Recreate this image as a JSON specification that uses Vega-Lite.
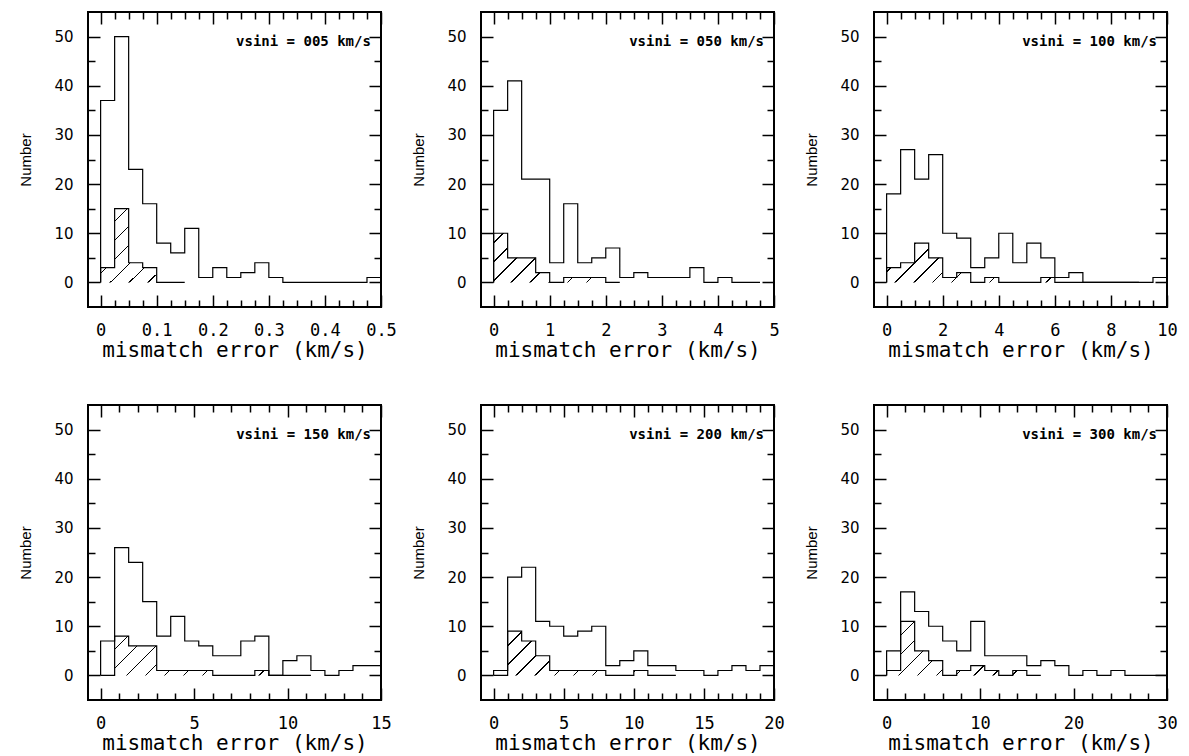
{
"$schema": "https://vega.github.io/schema/vega-lite/v6.json",
"background": "white",
"padding": {"left": 17, "top": 10, "right": 5, "bottom": 2},
"columns": 3,
"spacing": {"row": 98, "column": 100},
"bounds": "flush",
"config": {
  "view": {"stroke": "black", "strokeWidth": 2},
  "axis": {"domain": false, "grid": false, "tickColor": "black", "tickWidth": 1.5, "labelColor": "black", "titleColor": "black"}
},
"datasets": {
"h": [
{"p":1,"s":"all","e":0,"n":0},{"p":1,"s":"all","e":0.025,"n":37},{"p":1,"s":"all","e":0.05,"n":50},{"p":1,"s":"all","e":0.075,"n":23},{"p":1,"s":"all","e":0.1,"n":16},{"p":1,"s":"all","e":0.125,"n":8},{"p":1,"s":"all","e":0.15,"n":6},{"p":1,"s":"all","e":0.175,"n":11},{"p":1,"s":"all","e":0.2,"n":1},{"p":1,"s":"all","e":0.225,"n":3},{"p":1,"s":"all","e":0.25,"n":1},{"p":1,"s":"all","e":0.275,"n":2},{"p":1,"s":"all","e":0.3,"n":4},{"p":1,"s":"all","e":0.325,"n":1},{"p":1,"s":"all","e":0.35,"n":0},{"p":1,"s":"all","e":0.375,"n":0},{"p":1,"s":"all","e":0.4,"n":0},{"p":1,"s":"all","e":0.425,"n":0},{"p":1,"s":"all","e":0.45,"n":0},{"p":1,"s":"all","e":0.475,"n":0},{"p":1,"s":"all","e":0.5,"n":1},
{"p":1,"s":"sub","e":0,"n":0},{"p":1,"s":"sub","e":0.025,"n":3},{"p":1,"s":"sub","e":0.05,"n":15},{"p":1,"s":"sub","e":0.075,"n":4},{"p":1,"s":"sub","e":0.1,"n":3},{"p":1,"s":"sub","e":0.125,"n":0},{"p":1,"s":"sub","e":0.15,"n":0},
{"p":2,"s":"all","e":0,"n":0},{"p":2,"s":"all","e":0.25,"n":35},{"p":2,"s":"all","e":0.5,"n":41},{"p":2,"s":"all","e":0.75,"n":21},{"p":2,"s":"all","e":1,"n":21},{"p":2,"s":"all","e":1.25,"n":4},{"p":2,"s":"all","e":1.5,"n":16},{"p":2,"s":"all","e":1.75,"n":4},{"p":2,"s":"all","e":2,"n":5},{"p":2,"s":"all","e":2.25,"n":7},{"p":2,"s":"all","e":2.5,"n":1},{"p":2,"s":"all","e":2.75,"n":2},{"p":2,"s":"all","e":3,"n":1},{"p":2,"s":"all","e":3.25,"n":1},{"p":2,"s":"all","e":3.5,"n":1},{"p":2,"s":"all","e":3.75,"n":3},{"p":2,"s":"all","e":4,"n":0},{"p":2,"s":"all","e":4.25,"n":1},{"p":2,"s":"all","e":4.5,"n":0},{"p":2,"s":"all","e":4.75,"n":0},
{"p":2,"s":"sub","e":0,"n":0},{"p":2,"s":"sub","e":0.25,"n":10},{"p":2,"s":"sub","e":0.5,"n":5},{"p":2,"s":"sub","e":0.75,"n":5},{"p":2,"s":"sub","e":1,"n":2},{"p":2,"s":"sub","e":1.25,"n":0},{"p":2,"s":"sub","e":1.5,"n":1},{"p":2,"s":"sub","e":1.75,"n":1},{"p":2,"s":"sub","e":2,"n":1},{"p":2,"s":"sub","e":2.25,"n":0},
{"p":3,"s":"all","e":0,"n":0},{"p":3,"s":"all","e":0.5,"n":18},{"p":3,"s":"all","e":1,"n":27},{"p":3,"s":"all","e":1.5,"n":21},{"p":3,"s":"all","e":2,"n":26},{"p":3,"s":"all","e":2.5,"n":10},{"p":3,"s":"all","e":3,"n":9},{"p":3,"s":"all","e":3.5,"n":3},{"p":3,"s":"all","e":4,"n":5},{"p":3,"s":"all","e":4.5,"n":10},{"p":3,"s":"all","e":5,"n":4},{"p":3,"s":"all","e":5.5,"n":8},{"p":3,"s":"all","e":6,"n":5},{"p":3,"s":"all","e":6.5,"n":1},{"p":3,"s":"all","e":7,"n":2},{"p":3,"s":"all","e":7.5,"n":0},{"p":3,"s":"all","e":8,"n":0},{"p":3,"s":"all","e":8.5,"n":0},{"p":3,"s":"all","e":9,"n":0},{"p":3,"s":"all","e":9.5,"n":0},{"p":3,"s":"all","e":10,"n":1},
{"p":3,"s":"sub","e":0,"n":0},{"p":3,"s":"sub","e":0.5,"n":3},{"p":3,"s":"sub","e":1,"n":4},{"p":3,"s":"sub","e":1.5,"n":8},{"p":3,"s":"sub","e":2,"n":5},{"p":3,"s":"sub","e":2.5,"n":1},{"p":3,"s":"sub","e":3,"n":2},{"p":3,"s":"sub","e":3.5,"n":0},{"p":3,"s":"sub","e":4,"n":1},{"p":3,"s":"sub","e":4.5,"n":0},{"p":3,"s":"sub","e":5,"n":0},{"p":3,"s":"sub","e":5.5,"n":0},{"p":3,"s":"sub","e":6,"n":1},{"p":3,"s":"sub","e":6.5,"n":0},{"p":3,"s":"sub","e":7,"n":0},{"p":3,"s":"sub","e":7.5,"n":0},{"p":3,"s":"sub","e":8,"n":0},{"p":3,"s":"sub","e":8.5,"n":0},{"p":3,"s":"sub","e":9,"n":0},
{"p":4,"s":"all","e":0,"n":0},{"p":4,"s":"all","e":0.75,"n":7},{"p":4,"s":"all","e":1.5,"n":26},{"p":4,"s":"all","e":2.25,"n":23},{"p":4,"s":"all","e":3,"n":15},{"p":4,"s":"all","e":3.75,"n":8},{"p":4,"s":"all","e":4.5,"n":12},{"p":4,"s":"all","e":5.25,"n":7},{"p":4,"s":"all","e":6,"n":6},{"p":4,"s":"all","e":6.75,"n":4},{"p":4,"s":"all","e":7.5,"n":4},{"p":4,"s":"all","e":8.25,"n":7},{"p":4,"s":"all","e":9,"n":8},{"p":4,"s":"all","e":9.75,"n":0},{"p":4,"s":"all","e":10.5,"n":3},{"p":4,"s":"all","e":11.25,"n":4},{"p":4,"s":"all","e":12,"n":1},{"p":4,"s":"all","e":12.75,"n":0},{"p":4,"s":"all","e":13.5,"n":1},{"p":4,"s":"all","e":14.25,"n":2},{"p":4,"s":"all","e":15,"n":2},
{"p":4,"s":"sub","e":0,"n":0},{"p":4,"s":"sub","e":0.75,"n":0},{"p":4,"s":"sub","e":1.5,"n":8},{"p":4,"s":"sub","e":2.25,"n":6},{"p":4,"s":"sub","e":3,"n":6},{"p":4,"s":"sub","e":3.75,"n":1},{"p":4,"s":"sub","e":4.5,"n":1},{"p":4,"s":"sub","e":5.25,"n":1},{"p":4,"s":"sub","e":6,"n":1},{"p":4,"s":"sub","e":6.75,"n":0},{"p":4,"s":"sub","e":7.5,"n":0},{"p":4,"s":"sub","e":8.25,"n":0},{"p":4,"s":"sub","e":9,"n":1},{"p":4,"s":"sub","e":9.75,"n":0},{"p":4,"s":"sub","e":10.5,"n":0},{"p":4,"s":"sub","e":11.25,"n":0},
{"p":5,"s":"all","e":0,"n":0},{"p":5,"s":"all","e":1,"n":1},{"p":5,"s":"all","e":2,"n":20},{"p":5,"s":"all","e":3,"n":22},{"p":5,"s":"all","e":4,"n":11},{"p":5,"s":"all","e":5,"n":10},{"p":5,"s":"all","e":6,"n":8},{"p":5,"s":"all","e":7,"n":9},{"p":5,"s":"all","e":8,"n":10},{"p":5,"s":"all","e":9,"n":2},{"p":5,"s":"all","e":10,"n":3},{"p":5,"s":"all","e":11,"n":5},{"p":5,"s":"all","e":12,"n":2},{"p":5,"s":"all","e":13,"n":2},{"p":5,"s":"all","e":14,"n":1},{"p":5,"s":"all","e":15,"n":1},{"p":5,"s":"all","e":16,"n":0},{"p":5,"s":"all","e":17,"n":1},{"p":5,"s":"all","e":18,"n":2},{"p":5,"s":"all","e":19,"n":1},{"p":5,"s":"all","e":20,"n":2},
{"p":5,"s":"sub","e":0,"n":0},{"p":5,"s":"sub","e":1,"n":0},{"p":5,"s":"sub","e":2,"n":9},{"p":5,"s":"sub","e":3,"n":7},{"p":5,"s":"sub","e":4,"n":4},{"p":5,"s":"sub","e":5,"n":1},{"p":5,"s":"sub","e":6,"n":1},{"p":5,"s":"sub","e":7,"n":1},{"p":5,"s":"sub","e":8,"n":1},{"p":5,"s":"sub","e":9,"n":0},{"p":5,"s":"sub","e":10,"n":0},{"p":5,"s":"sub","e":11,"n":1},{"p":5,"s":"sub","e":12,"n":0},{"p":5,"s":"sub","e":13,"n":0},
{"p":6,"s":"all","e":0,"n":0},{"p":6,"s":"all","e":1.5,"n":5},{"p":6,"s":"all","e":3,"n":17},{"p":6,"s":"all","e":4.5,"n":13},{"p":6,"s":"all","e":6,"n":10},{"p":6,"s":"all","e":7.5,"n":7},{"p":6,"s":"all","e":9,"n":5},{"p":6,"s":"all","e":10.5,"n":11},{"p":6,"s":"all","e":12,"n":4},{"p":6,"s":"all","e":13.5,"n":4},{"p":6,"s":"all","e":15,"n":4},{"p":6,"s":"all","e":16.5,"n":2},{"p":6,"s":"all","e":18,"n":3},{"p":6,"s":"all","e":19.5,"n":2},{"p":6,"s":"all","e":21,"n":0},{"p":6,"s":"all","e":22.5,"n":1},{"p":6,"s":"all","e":24,"n":0},{"p":6,"s":"all","e":25.5,"n":1},{"p":6,"s":"all","e":27,"n":0},{"p":6,"s":"all","e":28.5,"n":0},{"p":6,"s":"all","e":30,"n":0},
{"p":6,"s":"sub","e":0,"n":0},{"p":6,"s":"sub","e":1.5,"n":1},{"p":6,"s":"sub","e":3,"n":11},{"p":6,"s":"sub","e":4.5,"n":5},{"p":6,"s":"sub","e":6,"n":3},{"p":6,"s":"sub","e":7.5,"n":0},{"p":6,"s":"sub","e":9,"n":1},{"p":6,"s":"sub","e":10.5,"n":2},{"p":6,"s":"sub","e":12,"n":1},{"p":6,"s":"sub","e":13.5,"n":0},{"p":6,"s":"sub","e":15,"n":1},{"p":6,"s":"sub","e":16.5,"n":0}
]
},
"concat": [
{
 "width": 293, "height": 295,
 "layer": [
  {"data": {"name": "h"}, "transform": [{"filter": "datum.p == 1 && datum.s == 'sub'"}],
   "mark": {"type": "area", "interpolate": "step-before", "color": {"gradient": "linear", "x1": 0, "y1": 0, "x2": 1.059, "y2": 0.933, "stops": [
     {"offset": 0, "color": "rgba(0,0,0,0)"},
     {"offset": 0.045, "color": "rgba(0,0,0,0)"},{"offset": 0.045, "color": "#000"},{"offset": 0.055, "color": "#000"},{"offset": 0.055, "color": "rgba(0,0,0,0)"},
     {"offset": 0.165, "color": "rgba(0,0,0,0)"},{"offset": 0.165, "color": "#000"},{"offset": 0.175, "color": "#000"},{"offset": 0.175, "color": "rgba(0,0,0,0)"},
     {"offset": 0.285, "color": "rgba(0,0,0,0)"},{"offset": 0.285, "color": "#000"},{"offset": 0.295, "color": "#000"},{"offset": 0.295, "color": "rgba(0,0,0,0)"},
     {"offset": 0.405, "color": "rgba(0,0,0,0)"},{"offset": 0.405, "color": "#000"},{"offset": 0.415, "color": "#000"},{"offset": 0.415, "color": "rgba(0,0,0,0)"},
     {"offset": 0.525, "color": "rgba(0,0,0,0)"},{"offset": 0.525, "color": "#000"},{"offset": 0.535, "color": "#000"},{"offset": 0.535, "color": "rgba(0,0,0,0)"},
     {"offset": 0.645, "color": "rgba(0,0,0,0)"},{"offset": 0.645, "color": "#000"},{"offset": 0.655, "color": "#000"},{"offset": 0.655, "color": "rgba(0,0,0,0)"},
     {"offset": 0.765, "color": "rgba(0,0,0,0)"},{"offset": 0.765, "color": "#000"},{"offset": 0.775, "color": "#000"},{"offset": 0.775, "color": "rgba(0,0,0,0)"},
     {"offset": 0.885, "color": "rgba(0,0,0,0)"},{"offset": 0.885, "color": "#000"},{"offset": 0.895, "color": "#000"},{"offset": 0.895, "color": "rgba(0,0,0,0)"},
     {"offset": 1, "color": "rgba(0,0,0,0)"}]}},
   "encoding": {
     "x": {"field": "e", "type": "quantitative", "scale": {"domain": [-0.0225, 0.5], "nice": false, "zero": false},
       "axis": {"orient": "bottom", "values": [0,0.025,0.05,0.075,0.1,0.125,0.15,0.175,0.2,0.225,0.25,0.275,0.3,0.325,0.35,0.375,0.4,0.425,0.45,0.475,0.5],
         "tickSize": {"condition": {"test": "abs(datum.value*10-round(datum.value*10))<0.001", "value": -12}, "value": -7},
         "labelExpr": "abs(datum.value*10-round(datum.value*10))<0.001 ? format(datum.value,'~g') : ''",
         "labelFont": "DejaVu Sans Mono", "labelFontSize": 17, "labelPadding": 27, "labelOverlap": false, "labelFlush": false, "labelBaseline": "top",
         "title": "mismatch error (km/s)", "titleFont": "DejaVu Sans Mono", "titleFontSize": 21, "titleFontWeight": "normal", "titlePadding": -4}},
     "y": {"field": "n", "type": "quantitative", "stack": null, "scale": {"domain": [-5, 55], "nice": false, "zero": false},
       "axis": {"orient": "left", "values": [0,5,10,15,20,25,30,35,40,45,50],
         "tickSize": {"condition": {"test": "datum.value % 10 == 0", "value": -12}, "value": -7},
         "labelExpr": "datum.value % 10 == 0 ? format(datum.value,'~g') : ''",
         "labelFont": "DejaVu Sans", "labelFontSize": 15, "labelPadding": 27, "labelOverlap": false, "labelFlush": false,
         "title": "Number", "titleFont": "Liberation Sans", "titleFontSize": 15, "titleFontWeight": "normal", "titlePadding": 20}},
     "y2": {"datum": 0}
   }},
  {"data": {"name": "h"}, "transform": [{"filter": "datum.p == 1 && datum.s == 'sub'"}],
   "mark": {"type": "line", "interpolate": "step-before", "color": "black", "strokeWidth": 1.2},
   "encoding": {
     "x": {"field": "e", "type": "quantitative", "scale": {"domain": [-0.0225, 0.5], "nice": false, "zero": false}, "axis": null},
     "y": {"field": "n", "type": "quantitative", "scale": {"domain": [-5, 55], "nice": false, "zero": false}, "axis": null}}},
  {"data": {"name": "h"}, "transform": [{"filter": "datum.p == 1 && datum.s == 'all'"}],
   "mark": {"type": "line", "interpolate": "step-before", "color": "black", "strokeWidth": 1.2},
   "encoding": {
     "x": {"field": "e", "type": "quantitative", "scale": {"domain": [-0.0225, 0.5], "nice": false, "zero": false},
       "axis": {"orient": "top", "values": [0,0.025,0.05,0.075,0.1,0.125,0.15,0.175,0.2,0.225,0.25,0.275,0.3,0.325,0.35,0.375,0.4,0.425,0.45,0.475,0.5],
         "tickSize": {"condition": {"test": "abs(datum.value*10-round(datum.value*10))<0.001", "value": -12}, "value": -7}, "labels": false, "title": null}},
     "y": {"field": "n", "type": "quantitative", "scale": {"domain": [-5, 55], "nice": false, "zero": false},
       "axis": {"orient": "right", "values": [0,5,10,15,20,25,30,35,40,45,50],
         "tickSize": {"condition": {"test": "datum.value % 10 == 0", "value": -12}, "value": -7}, "labels": false, "title": null}}}},
  {"data": {"values": [{"t": "vsini = 005 km/s"}]},
   "mark": {"type": "text", "align": "right", "baseline": "middle", "font": "DejaVu Sans Mono", "fontSize": 14, "fontWeight": "bold", "color": "black"},
   "encoding": {"text": {"field": "t"},
     "x": {"datum": 0.482, "type": "quantitative", "scale": {"domain": [-0.0225, 0.5], "nice": false, "zero": false}, "axis": null},
     "y": {"datum": 48.9, "type": "quantitative", "scale": {"domain": [-5, 55], "nice": false, "zero": false}, "axis": null}}}
 ],
 "resolve": {"axis": {"x": "independent", "y": "independent"}}
},
{
 "width": 293, "height": 295,
 "layer": [
  {"data": {"name": "h"}, "transform": [{"filter": "datum.p == 2 && datum.s == 'sub'"}],
   "mark": {"type": "area", "interpolate": "step-before", "color": {"gradient": "linear", "x1": 0, "y1": 0, "x2": 1.207, "y2": 0.47, "stops": [
     {"offset": 0, "color": "rgba(0,0,0,0)"},
     {"offset": 0.05, "color": "rgba(0,0,0,0)"},{"offset": 0.05, "color": "#000"},{"offset": 0.059, "color": "#000"},{"offset": 0.059, "color": "rgba(0,0,0,0)"},
     {"offset": 0.158, "color": "rgba(0,0,0,0)"},{"offset": 0.158, "color": "#000"},{"offset": 0.167, "color": "#000"},{"offset": 0.167, "color": "rgba(0,0,0,0)"},
     {"offset": 0.266, "color": "rgba(0,0,0,0)"},{"offset": 0.266, "color": "#000"},{"offset": 0.275, "color": "#000"},{"offset": 0.275, "color": "rgba(0,0,0,0)"},
     {"offset": 0.374, "color": "rgba(0,0,0,0)"},{"offset": 0.374, "color": "#000"},{"offset": 0.383, "color": "#000"},{"offset": 0.383, "color": "rgba(0,0,0,0)"},
     {"offset": 0.482, "color": "rgba(0,0,0,0)"},{"offset": 0.482, "color": "#000"},{"offset": 0.491, "color": "#000"},{"offset": 0.491, "color": "rgba(0,0,0,0)"},
     {"offset": 0.59, "color": "rgba(0,0,0,0)"},{"offset": 0.59, "color": "#000"},{"offset": 0.599, "color": "#000"},{"offset": 0.599, "color": "rgba(0,0,0,0)"},
     {"offset": 0.698, "color": "rgba(0,0,0,0)"},{"offset": 0.698, "color": "#000"},{"offset": 0.707, "color": "#000"},{"offset": 0.707, "color": "rgba(0,0,0,0)"},
     {"offset": 0.806, "color": "rgba(0,0,0,0)"},{"offset": 0.806, "color": "#000"},{"offset": 0.815, "color": "#000"},{"offset": 0.815, "color": "rgba(0,0,0,0)"},
     {"offset": 0.914, "color": "rgba(0,0,0,0)"},{"offset": 0.914, "color": "#000"},{"offset": 0.923, "color": "#000"},{"offset": 0.923, "color": "rgba(0,0,0,0)"},
     {"offset": 1, "color": "rgba(0,0,0,0)"}]}},
   "encoding": {
     "x": {"field": "e", "type": "quantitative", "scale": {"domain": [-0.225, 5], "nice": false, "zero": false},
       "axis": {"orient": "bottom", "values": [0,0.25,0.5,0.75,1,1.25,1.5,1.75,2,2.25,2.5,2.75,3,3.25,3.5,3.75,4,4.25,4.5,4.75,5],
         "tickSize": {"condition": {"test": "abs(datum.value-round(datum.value))<0.001", "value": -12}, "value": -7},
         "labelExpr": "abs(datum.value-round(datum.value))<0.001 ? format(datum.value,'~g') : ''",
         "labelFont": "DejaVu Sans Mono", "labelFontSize": 17, "labelPadding": 27, "labelOverlap": false, "labelFlush": false, "labelBaseline": "top",
         "title": "mismatch error (km/s)", "titleFont": "DejaVu Sans Mono", "titleFontSize": 21, "titleFontWeight": "normal", "titlePadding": -4}},
     "y": {"field": "n", "type": "quantitative", "stack": null, "scale": {"domain": [-5, 55], "nice": false, "zero": false},
       "axis": {"orient": "left", "values": [0,5,10,15,20,25,30,35,40,45,50],
         "tickSize": {"condition": {"test": "datum.value % 10 == 0", "value": -12}, "value": -7},
         "labelExpr": "datum.value % 10 == 0 ? format(datum.value,'~g') : ''",
         "labelFont": "DejaVu Sans", "labelFontSize": 15, "labelPadding": 27, "labelOverlap": false, "labelFlush": false,
         "title": "Number", "titleFont": "Liberation Sans", "titleFontSize": 15, "titleFontWeight": "normal", "titlePadding": 20}},
     "y2": {"datum": 0}
   }},
  {"data": {"name": "h"}, "transform": [{"filter": "datum.p == 2 && datum.s == 'sub'"}],
   "mark": {"type": "line", "interpolate": "step-before", "color": "black", "strokeWidth": 1.2},
   "encoding": {
     "x": {"field": "e", "type": "quantitative", "scale": {"domain": [-0.225, 5], "nice": false, "zero": false}, "axis": null},
     "y": {"field": "n", "type": "quantitative", "scale": {"domain": [-5, 55], "nice": false, "zero": false}, "axis": null}}},
  {"data": {"name": "h"}, "transform": [{"filter": "datum.p == 2 && datum.s == 'all'"}],
   "mark": {"type": "line", "interpolate": "step-before", "color": "black", "strokeWidth": 1.2},
   "encoding": {
     "x": {"field": "e", "type": "quantitative", "scale": {"domain": [-0.225, 5], "nice": false, "zero": false},
       "axis": {"orient": "top", "values": [0,0.25,0.5,0.75,1,1.25,1.5,1.75,2,2.25,2.5,2.75,3,3.25,3.5,3.75,4,4.25,4.5,4.75,5],
         "tickSize": {"condition": {"test": "abs(datum.value-round(datum.value))<0.001", "value": -12}, "value": -7}, "labels": false, "title": null}},
     "y": {"field": "n", "type": "quantitative", "scale": {"domain": [-5, 55], "nice": false, "zero": false},
       "axis": {"orient": "right", "values": [0,5,10,15,20,25,30,35,40,45,50],
         "tickSize": {"condition": {"test": "datum.value % 10 == 0", "value": -12}, "value": -7}, "labels": false, "title": null}}}},
  {"data": {"values": [{"t": "vsini = 050 km/s"}]},
   "mark": {"type": "text", "align": "right", "baseline": "middle", "font": "DejaVu Sans Mono", "fontSize": 14, "fontWeight": "bold", "color": "black"},
   "encoding": {"text": {"field": "t"},
     "x": {"datum": 4.822, "type": "quantitative", "scale": {"domain": [-0.225, 5], "nice": false, "zero": false}, "axis": null},
     "y": {"datum": 48.9, "type": "quantitative", "scale": {"domain": [-5, 55], "nice": false, "zero": false}, "axis": null}}}
 ],
 "resolve": {"axis": {"x": "independent", "y": "independent"}}
},
{
 "width": 293, "height": 295,
 "layer": [
  {"data": {"name": "h"}, "transform": [{"filter": "datum.p == 3 && datum.s == 'sub'"}],
   "mark": {"type": "area", "interpolate": "step-before", "color": {"gradient": "linear", "x1": 0, "y1": 0, "x2": 1.128, "y2": 0.176, "stops": [
     {"offset": 0, "color": "rgba(0,0,0,0)"},
     {"offset": 0.03, "color": "rgba(0,0,0,0)"},{"offset": 0.03, "color": "#000"},{"offset": 0.036, "color": "#000"},{"offset": 0.036, "color": "rgba(0,0,0,0)"},
     {"offset": 0.095, "color": "rgba(0,0,0,0)"},{"offset": 0.095, "color": "#000"},{"offset": 0.101, "color": "#000"},{"offset": 0.101, "color": "rgba(0,0,0,0)"},
     {"offset": 0.16, "color": "rgba(0,0,0,0)"},{"offset": 0.16, "color": "#000"},{"offset": 0.166, "color": "#000"},{"offset": 0.166, "color": "rgba(0,0,0,0)"},
     {"offset": 0.225, "color": "rgba(0,0,0,0)"},{"offset": 0.225, "color": "#000"},{"offset": 0.231, "color": "#000"},{"offset": 0.231, "color": "rgba(0,0,0,0)"},
     {"offset": 0.29, "color": "rgba(0,0,0,0)"},{"offset": 0.29, "color": "#000"},{"offset": 0.296, "color": "#000"},{"offset": 0.296, "color": "rgba(0,0,0,0)"},
     {"offset": 0.355, "color": "rgba(0,0,0,0)"},{"offset": 0.355, "color": "#000"},{"offset": 0.361, "color": "#000"},{"offset": 0.361, "color": "rgba(0,0,0,0)"},
     {"offset": 0.42, "color": "rgba(0,0,0,0)"},{"offset": 0.42, "color": "#000"},{"offset": 0.426, "color": "#000"},{"offset": 0.426, "color": "rgba(0,0,0,0)"},
     {"offset": 0.485, "color": "rgba(0,0,0,0)"},{"offset": 0.485, "color": "#000"},{"offset": 0.491, "color": "#000"},{"offset": 0.491, "color": "rgba(0,0,0,0)"},
     {"offset": 0.55, "color": "rgba(0,0,0,0)"},{"offset": 0.55, "color": "#000"},{"offset": 0.556, "color": "#000"},{"offset": 0.556, "color": "rgba(0,0,0,0)"},
     {"offset": 0.615, "color": "rgba(0,0,0,0)"},{"offset": 0.615, "color": "#000"},{"offset": 0.621, "color": "#000"},{"offset": 0.621, "color": "rgba(0,0,0,0)"},
     {"offset": 0.68, "color": "rgba(0,0,0,0)"},{"offset": 0.68, "color": "#000"},{"offset": 0.686, "color": "#000"},{"offset": 0.686, "color": "rgba(0,0,0,0)"},
     {"offset": 0.745, "color": "rgba(0,0,0,0)"},{"offset": 0.745, "color": "#000"},{"offset": 0.751, "color": "#000"},{"offset": 0.751, "color": "rgba(0,0,0,0)"},
     {"offset": 0.81, "color": "rgba(0,0,0,0)"},{"offset": 0.81, "color": "#000"},{"offset": 0.816, "color": "#000"},{"offset": 0.816, "color": "rgba(0,0,0,0)"},
     {"offset": 0.875, "color": "rgba(0,0,0,0)"},{"offset": 0.875, "color": "#000"},{"offset": 0.881, "color": "#000"},{"offset": 0.881, "color": "rgba(0,0,0,0)"},
     {"offset": 0.94, "color": "rgba(0,0,0,0)"},{"offset": 0.94, "color": "#000"},{"offset": 0.946, "color": "#000"},{"offset": 0.946, "color": "rgba(0,0,0,0)"},
     {"offset": 1, "color": "rgba(0,0,0,0)"}]}},
   "encoding": {
     "x": {"field": "e", "type": "quantitative", "scale": {"domain": [-0.45, 10], "nice": false, "zero": false},
       "axis": {"orient": "bottom", "values": [0,0.5,1,1.5,2,2.5,3,3.5,4,4.5,5,5.5,6,6.5,7,7.5,8,8.5,9,9.5,10],
         "tickSize": {"condition": {"test": "datum.value % 2 == 0", "value": -12}, "value": -7},
         "labelExpr": "datum.value % 2 == 0 ? format(datum.value,'~g') : ''",
         "labelFont": "DejaVu Sans Mono", "labelFontSize": 17, "labelPadding": 27, "labelOverlap": false, "labelFlush": false, "labelBaseline": "top",
         "title": "mismatch error (km/s)", "titleFont": "DejaVu Sans Mono", "titleFontSize": 21, "titleFontWeight": "normal", "titlePadding": -4}},
     "y": {"field": "n", "type": "quantitative", "stack": null, "scale": {"domain": [-5, 55], "nice": false, "zero": false},
       "axis": {"orient": "left", "values": [0,5,10,15,20,25,30,35,40,45,50],
         "tickSize": {"condition": {"test": "datum.value % 10 == 0", "value": -12}, "value": -7},
         "labelExpr": "datum.value % 10 == 0 ? format(datum.value,'~g') : ''",
         "labelFont": "DejaVu Sans", "labelFontSize": 15, "labelPadding": 27, "labelOverlap": false, "labelFlush": false,
         "title": "Number", "titleFont": "Liberation Sans", "titleFontSize": 15, "titleFontWeight": "normal", "titlePadding": 20}},
     "y2": {"datum": 0}
   }},
  {"data": {"name": "h"}, "transform": [{"filter": "datum.p == 3 && datum.s == 'sub'"}],
   "mark": {"type": "line", "interpolate": "step-before", "color": "black", "strokeWidth": 1.2},
   "encoding": {
     "x": {"field": "e", "type": "quantitative", "scale": {"domain": [-0.45, 10], "nice": false, "zero": false}, "axis": null},
     "y": {"field": "n", "type": "quantitative", "scale": {"domain": [-5, 55], "nice": false, "zero": false}, "axis": null}}},
  {"data": {"name": "h"}, "transform": [{"filter": "datum.p == 3 && datum.s == 'all'"}],
   "mark": {"type": "line", "interpolate": "step-before", "color": "black", "strokeWidth": 1.2},
   "encoding": {
     "x": {"field": "e", "type": "quantitative", "scale": {"domain": [-0.45, 10], "nice": false, "zero": false},
       "axis": {"orient": "top", "values": [0,0.5,1,1.5,2,2.5,3,3.5,4,4.5,5,5.5,6,6.5,7,7.5,8,8.5,9,9.5,10],
         "tickSize": {"condition": {"test": "datum.value % 2 == 0", "value": -12}, "value": -7}, "labels": false, "title": null}},
     "y": {"field": "n", "type": "quantitative", "scale": {"domain": [-5, 55], "nice": false, "zero": false},
       "axis": {"orient": "right", "values": [0,5,10,15,20,25,30,35,40,45,50],
         "tickSize": {"condition": {"test": "datum.value % 10 == 0", "value": -12}, "value": -7}, "labels": false, "title": null}}}},
  {"data": {"values": [{"t": "vsini = 100 km/s"}]},
   "mark": {"type": "text", "align": "right", "baseline": "middle", "font": "DejaVu Sans Mono", "fontSize": 14, "fontWeight": "bold", "color": "black"},
   "encoding": {"text": {"field": "t"},
     "x": {"datum": 9.643, "type": "quantitative", "scale": {"domain": [-0.45, 10], "nice": false, "zero": false}, "axis": null},
     "y": {"datum": 48.9, "type": "quantitative", "scale": {"domain": [-5, 55], "nice": false, "zero": false}, "axis": null}}}
 ],
 "resolve": {"axis": {"x": "independent", "y": "independent"}}
},
{
 "width": 293, "height": 295,
 "layer": [
  {"data": {"name": "h"}, "transform": [{"filter": "datum.p == 4 && datum.s == 'sub'"}],
   "mark": {"type": "area", "interpolate": "step-before", "color": {"gradient": "linear", "x1": 0, "y1": 0, "x2": 1.147, "y2": 0.214, "stops": [
     {"offset": 0, "color": "rgba(0,0,0,0)"},
     {"offset": 0.03, "color": "rgba(0,0,0,0)"},{"offset": 0.03, "color": "#000"},{"offset": 0.0365, "color": "#000"},{"offset": 0.0365, "color": "rgba(0,0,0,0)"},
     {"offset": 0.106, "color": "rgba(0,0,0,0)"},{"offset": 0.106, "color": "#000"},{"offset": 0.1125, "color": "#000"},{"offset": 0.1125, "color": "rgba(0,0,0,0)"},
     {"offset": 0.182, "color": "rgba(0,0,0,0)"},{"offset": 0.182, "color": "#000"},{"offset": 0.1885, "color": "#000"},{"offset": 0.1885, "color": "rgba(0,0,0,0)"},
     {"offset": 0.258, "color": "rgba(0,0,0,0)"},{"offset": 0.258, "color": "#000"},{"offset": 0.2645, "color": "#000"},{"offset": 0.2645, "color": "rgba(0,0,0,0)"},
     {"offset": 0.334, "color": "rgba(0,0,0,0)"},{"offset": 0.334, "color": "#000"},{"offset": 0.3405, "color": "#000"},{"offset": 0.3405, "color": "rgba(0,0,0,0)"},
     {"offset": 0.41, "color": "rgba(0,0,0,0)"},{"offset": 0.41, "color": "#000"},{"offset": 0.4165, "color": "#000"},{"offset": 0.4165, "color": "rgba(0,0,0,0)"},
     {"offset": 0.486, "color": "rgba(0,0,0,0)"},{"offset": 0.486, "color": "#000"},{"offset": 0.4925, "color": "#000"},{"offset": 0.4925, "color": "rgba(0,0,0,0)"},
     {"offset": 0.562, "color": "rgba(0,0,0,0)"},{"offset": 0.562, "color": "#000"},{"offset": 0.5685, "color": "#000"},{"offset": 0.5685, "color": "rgba(0,0,0,0)"},
     {"offset": 0.638, "color": "rgba(0,0,0,0)"},{"offset": 0.638, "color": "#000"},{"offset": 0.6445, "color": "#000"},{"offset": 0.6445, "color": "rgba(0,0,0,0)"},
     {"offset": 0.714, "color": "rgba(0,0,0,0)"},{"offset": 0.714, "color": "#000"},{"offset": 0.7205, "color": "#000"},{"offset": 0.7205, "color": "rgba(0,0,0,0)"},
     {"offset": 0.79, "color": "rgba(0,0,0,0)"},{"offset": 0.79, "color": "#000"},{"offset": 0.7965, "color": "#000"},{"offset": 0.7965, "color": "rgba(0,0,0,0)"},
     {"offset": 0.866, "color": "rgba(0,0,0,0)"},{"offset": 0.866, "color": "#000"},{"offset": 0.8725, "color": "#000"},{"offset": 0.8725, "color": "rgba(0,0,0,0)"},
     {"offset": 0.942, "color": "rgba(0,0,0,0)"},{"offset": 0.942, "color": "#000"},{"offset": 0.9485, "color": "#000"},{"offset": 0.9485, "color": "rgba(0,0,0,0)"},
     {"offset": 1, "color": "rgba(0,0,0,0)"}]}},
   "encoding": {
     "x": {"field": "e", "type": "quantitative", "scale": {"domain": [-0.675, 15], "nice": false, "zero": false},
       "axis": {"orient": "bottom", "values": [0,1,2,3,4,5,6,7,8,9,10,11,12,13,14,15],
         "tickSize": {"condition": {"test": "datum.value % 5 == 0", "value": -12}, "value": -7},
         "labelExpr": "datum.value % 5 == 0 ? format(datum.value,'~g') : ''",
         "labelFont": "DejaVu Sans Mono", "labelFontSize": 17, "labelPadding": 27, "labelOverlap": false, "labelFlush": false, "labelBaseline": "top",
         "title": "mismatch error (km/s)", "titleFont": "DejaVu Sans Mono", "titleFontSize": 21, "titleFontWeight": "normal", "titlePadding": -4}},
     "y": {"field": "n", "type": "quantitative", "stack": null, "scale": {"domain": [-5, 55], "nice": false, "zero": false},
       "axis": {"orient": "left", "values": [0,5,10,15,20,25,30,35,40,45,50],
         "tickSize": {"condition": {"test": "datum.value % 10 == 0", "value": -12}, "value": -7},
         "labelExpr": "datum.value % 10 == 0 ? format(datum.value,'~g') : ''",
         "labelFont": "DejaVu Sans", "labelFontSize": 15, "labelPadding": 27, "labelOverlap": false, "labelFlush": false,
         "title": "Number", "titleFont": "Liberation Sans", "titleFontSize": 15, "titleFontWeight": "normal", "titlePadding": 20}},
     "y2": {"datum": 0}
   }},
  {"data": {"name": "h"}, "transform": [{"filter": "datum.p == 4 && datum.s == 'sub'"}],
   "mark": {"type": "line", "interpolate": "step-before", "color": "black", "strokeWidth": 1.2},
   "encoding": {
     "x": {"field": "e", "type": "quantitative", "scale": {"domain": [-0.675, 15], "nice": false, "zero": false}, "axis": null},
     "y": {"field": "n", "type": "quantitative", "scale": {"domain": [-5, 55], "nice": false, "zero": false}, "axis": null}}},
  {"data": {"name": "h"}, "transform": [{"filter": "datum.p == 4 && datum.s == 'all'"}],
   "mark": {"type": "line", "interpolate": "step-before", "color": "black", "strokeWidth": 1.2},
   "encoding": {
     "x": {"field": "e", "type": "quantitative", "scale": {"domain": [-0.675, 15], "nice": false, "zero": false},
       "axis": {"orient": "top", "values": [0,1,2,3,4,5,6,7,8,9,10,11,12,13,14,15],
         "tickSize": {"condition": {"test": "datum.value % 5 == 0", "value": -12}, "value": -7}, "labels": false, "title": null}},
     "y": {"field": "n", "type": "quantitative", "scale": {"domain": [-5, 55], "nice": false, "zero": false},
       "axis": {"orient": "right", "values": [0,5,10,15,20,25,30,35,40,45,50],
         "tickSize": {"condition": {"test": "datum.value % 10 == 0", "value": -12}, "value": -7}, "labels": false, "title": null}}}},
  {"data": {"values": [{"t": "vsini = 150 km/s"}]},
   "mark": {"type": "text", "align": "right", "baseline": "middle", "font": "DejaVu Sans Mono", "fontSize": 14, "fontWeight": "bold", "color": "black"},
   "encoding": {"text": {"field": "t"},
     "x": {"datum": 14.465, "type": "quantitative", "scale": {"domain": [-0.675, 15], "nice": false, "zero": false}, "axis": null},
     "y": {"datum": 48.9, "type": "quantitative", "scale": {"domain": [-5, 55], "nice": false, "zero": false}, "axis": null}}}
 ],
 "resolve": {"axis": {"x": "independent", "y": "independent"}}
},
{
 "width": 293, "height": 295,
 "layer": [
  {"data": {"name": "h"}, "transform": [{"filter": "datum.p == 5 && datum.s == 'sub'"}],
   "mark": {"type": "area", "interpolate": "step-before", "color": {"gradient": "linear", "x1": 0, "y1": 0, "x2": 1.174, "y2": 0.285, "stops": [
     {"offset": 0, "color": "rgba(0,0,0,0)"},
     {"offset": 0.04, "color": "rgba(0,0,0,0)"},{"offset": 0.04, "color": "#000"},{"offset": 0.047, "color": "#000"},{"offset": 0.047, "color": "rgba(0,0,0,0)"},
     {"offset": 0.124, "color": "rgba(0,0,0,0)"},{"offset": 0.124, "color": "#000"},{"offset": 0.131, "color": "#000"},{"offset": 0.131, "color": "rgba(0,0,0,0)"},
     {"offset": 0.208, "color": "rgba(0,0,0,0)"},{"offset": 0.208, "color": "#000"},{"offset": 0.215, "color": "#000"},{"offset": 0.215, "color": "rgba(0,0,0,0)"},
     {"offset": 0.292, "color": "rgba(0,0,0,0)"},{"offset": 0.292, "color": "#000"},{"offset": 0.299, "color": "#000"},{"offset": 0.299, "color": "rgba(0,0,0,0)"},
     {"offset": 0.376, "color": "rgba(0,0,0,0)"},{"offset": 0.376, "color": "#000"},{"offset": 0.383, "color": "#000"},{"offset": 0.383, "color": "rgba(0,0,0,0)"},
     {"offset": 0.46, "color": "rgba(0,0,0,0)"},{"offset": 0.46, "color": "#000"},{"offset": 0.467, "color": "#000"},{"offset": 0.467, "color": "rgba(0,0,0,0)"},
     {"offset": 0.544, "color": "rgba(0,0,0,0)"},{"offset": 0.544, "color": "#000"},{"offset": 0.551, "color": "#000"},{"offset": 0.551, "color": "rgba(0,0,0,0)"},
     {"offset": 0.628, "color": "rgba(0,0,0,0)"},{"offset": 0.628, "color": "#000"},{"offset": 0.635, "color": "#000"},{"offset": 0.635, "color": "rgba(0,0,0,0)"},
     {"offset": 0.712, "color": "rgba(0,0,0,0)"},{"offset": 0.712, "color": "#000"},{"offset": 0.719, "color": "#000"},{"offset": 0.719, "color": "rgba(0,0,0,0)"},
     {"offset": 0.796, "color": "rgba(0,0,0,0)"},{"offset": 0.796, "color": "#000"},{"offset": 0.803, "color": "#000"},{"offset": 0.803, "color": "rgba(0,0,0,0)"},
     {"offset": 0.88, "color": "rgba(0,0,0,0)"},{"offset": 0.88, "color": "#000"},{"offset": 0.887, "color": "#000"},{"offset": 0.887, "color": "rgba(0,0,0,0)"},
     {"offset": 0.964, "color": "rgba(0,0,0,0)"},{"offset": 0.964, "color": "#000"},{"offset": 0.971, "color": "#000"},{"offset": 0.971, "color": "rgba(0,0,0,0)"},
     {"offset": 1, "color": "rgba(0,0,0,0)"}]}},
   "encoding": {
     "x": {"field": "e", "type": "quantitative", "scale": {"domain": [-0.9, 20], "nice": false, "zero": false},
       "axis": {"orient": "bottom", "values": [0,1,2,3,4,5,6,7,8,9,10,11,12,13,14,15,16,17,18,19,20],
         "tickSize": {"condition": {"test": "datum.value % 5 == 0", "value": -12}, "value": -7},
         "labelExpr": "datum.value % 5 == 0 ? format(datum.value,'~g') : ''",
         "labelFont": "DejaVu Sans Mono", "labelFontSize": 17, "labelPadding": 27, "labelOverlap": false, "labelFlush": false, "labelBaseline": "top",
         "title": "mismatch error (km/s)", "titleFont": "DejaVu Sans Mono", "titleFontSize": 21, "titleFontWeight": "normal", "titlePadding": -4}},
     "y": {"field": "n", "type": "quantitative", "stack": null, "scale": {"domain": [-5, 55], "nice": false, "zero": false},
       "axis": {"orient": "left", "values": [0,5,10,15,20,25,30,35,40,45,50],
         "tickSize": {"condition": {"test": "datum.value % 10 == 0", "value": -12}, "value": -7},
         "labelExpr": "datum.value % 10 == 0 ? format(datum.value,'~g') : ''",
         "labelFont": "DejaVu Sans", "labelFontSize": 15, "labelPadding": 27, "labelOverlap": false, "labelFlush": false,
         "title": "Number", "titleFont": "Liberation Sans", "titleFontSize": 15, "titleFontWeight": "normal", "titlePadding": 20}},
     "y2": {"datum": 0}
   }},
  {"data": {"name": "h"}, "transform": [{"filter": "datum.p == 5 && datum.s == 'sub'"}],
   "mark": {"type": "line", "interpolate": "step-before", "color": "black", "strokeWidth": 1.2},
   "encoding": {
     "x": {"field": "e", "type": "quantitative", "scale": {"domain": [-0.9, 20], "nice": false, "zero": false}, "axis": null},
     "y": {"field": "n", "type": "quantitative", "scale": {"domain": [-5, 55], "nice": false, "zero": false}, "axis": null}}},
  {"data": {"name": "h"}, "transform": [{"filter": "datum.p == 5 && datum.s == 'all'"}],
   "mark": {"type": "line", "interpolate": "step-before", "color": "black", "strokeWidth": 1.2},
   "encoding": {
     "x": {"field": "e", "type": "quantitative", "scale": {"domain": [-0.9, 20], "nice": false, "zero": false},
       "axis": {"orient": "top", "values": [0,1,2,3,4,5,6,7,8,9,10,11,12,13,14,15,16,17,18,19,20],
         "tickSize": {"condition": {"test": "datum.value % 5 == 0", "value": -12}, "value": -7}, "labels": false, "title": null}},
     "y": {"field": "n", "type": "quantitative", "scale": {"domain": [-5, 55], "nice": false, "zero": false},
       "axis": {"orient": "right", "values": [0,5,10,15,20,25,30,35,40,45,50],
         "tickSize": {"condition": {"test": "datum.value % 10 == 0", "value": -12}, "value": -7}, "labels": false, "title": null}}}},
  {"data": {"values": [{"t": "vsini = 200 km/s"}]},
   "mark": {"type": "text", "align": "right", "baseline": "middle", "font": "DejaVu Sans Mono", "fontSize": 14, "fontWeight": "bold", "color": "black"},
   "encoding": {"text": {"field": "t"},
     "x": {"datum": 19.287, "type": "quantitative", "scale": {"domain": [-0.9, 20], "nice": false, "zero": false}, "axis": null},
     "y": {"datum": 48.9, "type": "quantitative", "scale": {"domain": [-5, 55], "nice": false, "zero": false}, "axis": null}}}
 ],
 "resolve": {"axis": {"x": "independent", "y": "independent"}}
},
{
 "width": 293, "height": 295,
 "layer": [
  {"data": {"name": "h"}, "transform": [{"filter": "datum.p == 6 && datum.s == 'sub'"}],
   "mark": {"type": "area", "interpolate": "step-before", "color": {"gradient": "linear", "x1": 0, "y1": 0, "x2": 1.203, "y2": 0.422, "stops": [
     {"offset": 0, "color": "rgba(0,0,0,0)"},
     {"offset": 0.04, "color": "rgba(0,0,0,0)"},{"offset": 0.04, "color": "#000"},{"offset": 0.048, "color": "#000"},{"offset": 0.048, "color": "rgba(0,0,0,0)"},
     {"offset": 0.131, "color": "rgba(0,0,0,0)"},{"offset": 0.131, "color": "#000"},{"offset": 0.139, "color": "#000"},{"offset": 0.139, "color": "rgba(0,0,0,0)"},
     {"offset": 0.222, "color": "rgba(0,0,0,0)"},{"offset": 0.222, "color": "#000"},{"offset": 0.23, "color": "#000"},{"offset": 0.23, "color": "rgba(0,0,0,0)"},
     {"offset": 0.313, "color": "rgba(0,0,0,0)"},{"offset": 0.313, "color": "#000"},{"offset": 0.321, "color": "#000"},{"offset": 0.321, "color": "rgba(0,0,0,0)"},
     {"offset": 0.404, "color": "rgba(0,0,0,0)"},{"offset": 0.404, "color": "#000"},{"offset": 0.412, "color": "#000"},{"offset": 0.412, "color": "rgba(0,0,0,0)"},
     {"offset": 0.495, "color": "rgba(0,0,0,0)"},{"offset": 0.495, "color": "#000"},{"offset": 0.503, "color": "#000"},{"offset": 0.503, "color": "rgba(0,0,0,0)"},
     {"offset": 0.586, "color": "rgba(0,0,0,0)"},{"offset": 0.586, "color": "#000"},{"offset": 0.594, "color": "#000"},{"offset": 0.594, "color": "rgba(0,0,0,0)"},
     {"offset": 0.677, "color": "rgba(0,0,0,0)"},{"offset": 0.677, "color": "#000"},{"offset": 0.685, "color": "#000"},{"offset": 0.685, "color": "rgba(0,0,0,0)"},
     {"offset": 0.768, "color": "rgba(0,0,0,0)"},{"offset": 0.768, "color": "#000"},{"offset": 0.776, "color": "#000"},{"offset": 0.776, "color": "rgba(0,0,0,0)"},
     {"offset": 0.859, "color": "rgba(0,0,0,0)"},{"offset": 0.859, "color": "#000"},{"offset": 0.867, "color": "#000"},{"offset": 0.867, "color": "rgba(0,0,0,0)"},
     {"offset": 0.95, "color": "rgba(0,0,0,0)"},{"offset": 0.95, "color": "#000"},{"offset": 0.958, "color": "#000"},{"offset": 0.958, "color": "rgba(0,0,0,0)"},
     {"offset": 1, "color": "rgba(0,0,0,0)"}]}},
   "encoding": {
     "x": {"field": "e", "type": "quantitative", "scale": {"domain": [-1.35, 30], "nice": false, "zero": false},
       "axis": {"orient": "bottom", "values": [0,2,4,6,8,10,12,14,16,18,20,22,24,26,28,30],
         "tickSize": {"condition": {"test": "datum.value % 10 == 0", "value": -12}, "value": -7},
         "labelExpr": "datum.value % 10 == 0 ? format(datum.value,'~g') : ''",
         "labelFont": "DejaVu Sans Mono", "labelFontSize": 17, "labelPadding": 27, "labelOverlap": false, "labelFlush": false, "labelBaseline": "top",
         "title": "mismatch error (km/s)", "titleFont": "DejaVu Sans Mono", "titleFontSize": 21, "titleFontWeight": "normal", "titlePadding": -4}},
     "y": {"field": "n", "type": "quantitative", "stack": null, "scale": {"domain": [-5, 55], "nice": false, "zero": false},
       "axis": {"orient": "left", "values": [0,5,10,15,20,25,30,35,40,45,50],
         "tickSize": {"condition": {"test": "datum.value % 10 == 0", "value": -12}, "value": -7},
         "labelExpr": "datum.value % 10 == 0 ? format(datum.value,'~g') : ''",
         "labelFont": "DejaVu Sans", "labelFontSize": 15, "labelPadding": 27, "labelOverlap": false, "labelFlush": false,
         "title": "Number", "titleFont": "Liberation Sans", "titleFontSize": 15, "titleFontWeight": "normal", "titlePadding": 20}},
     "y2": {"datum": 0}
   }},
  {"data": {"name": "h"}, "transform": [{"filter": "datum.p == 6 && datum.s == 'sub'"}],
   "mark": {"type": "line", "interpolate": "step-before", "color": "black", "strokeWidth": 1.2},
   "encoding": {
     "x": {"field": "e", "type": "quantitative", "scale": {"domain": [-1.35, 30], "nice": false, "zero": false}, "axis": null},
     "y": {"field": "n", "type": "quantitative", "scale": {"domain": [-5, 55], "nice": false, "zero": false}, "axis": null}}},
  {"data": {"name": "h"}, "transform": [{"filter": "datum.p == 6 && datum.s == 'all'"}],
   "mark": {"type": "line", "interpolate": "step-before", "color": "black", "strokeWidth": 1.2},
   "encoding": {
     "x": {"field": "e", "type": "quantitative", "scale": {"domain": [-1.35, 30], "nice": false, "zero": false},
       "axis": {"orient": "top", "values": [0,2,4,6,8,10,12,14,16,18,20,22,24,26,28,30],
         "tickSize": {"condition": {"test": "datum.value % 10 == 0", "value": -12}, "value": -7}, "labels": false, "title": null}},
     "y": {"field": "n", "type": "quantitative", "scale": {"domain": [-5, 55], "nice": false, "zero": false},
       "axis": {"orient": "right", "values": [0,5,10,15,20,25,30,35,40,45,50],
         "tickSize": {"condition": {"test": "datum.value % 10 == 0", "value": -12}, "value": -7}, "labels": false, "title": null}}}},
  {"data": {"values": [{"t": "vsini = 300 km/s"}]},
   "mark": {"type": "text", "align": "right", "baseline": "middle", "font": "DejaVu Sans Mono", "fontSize": 14, "fontWeight": "bold", "color": "black"},
   "encoding": {"text": {"field": "t"},
     "x": {"datum": 28.93, "type": "quantitative", "scale": {"domain": [-1.35, 30], "nice": false, "zero": false}, "axis": null},
     "y": {"datum": 48.9, "type": "quantitative", "scale": {"domain": [-5, 55], "nice": false, "zero": false}, "axis": null}}}
 ],
 "resolve": {"axis": {"x": "independent", "y": "independent"}}
}
]
}
